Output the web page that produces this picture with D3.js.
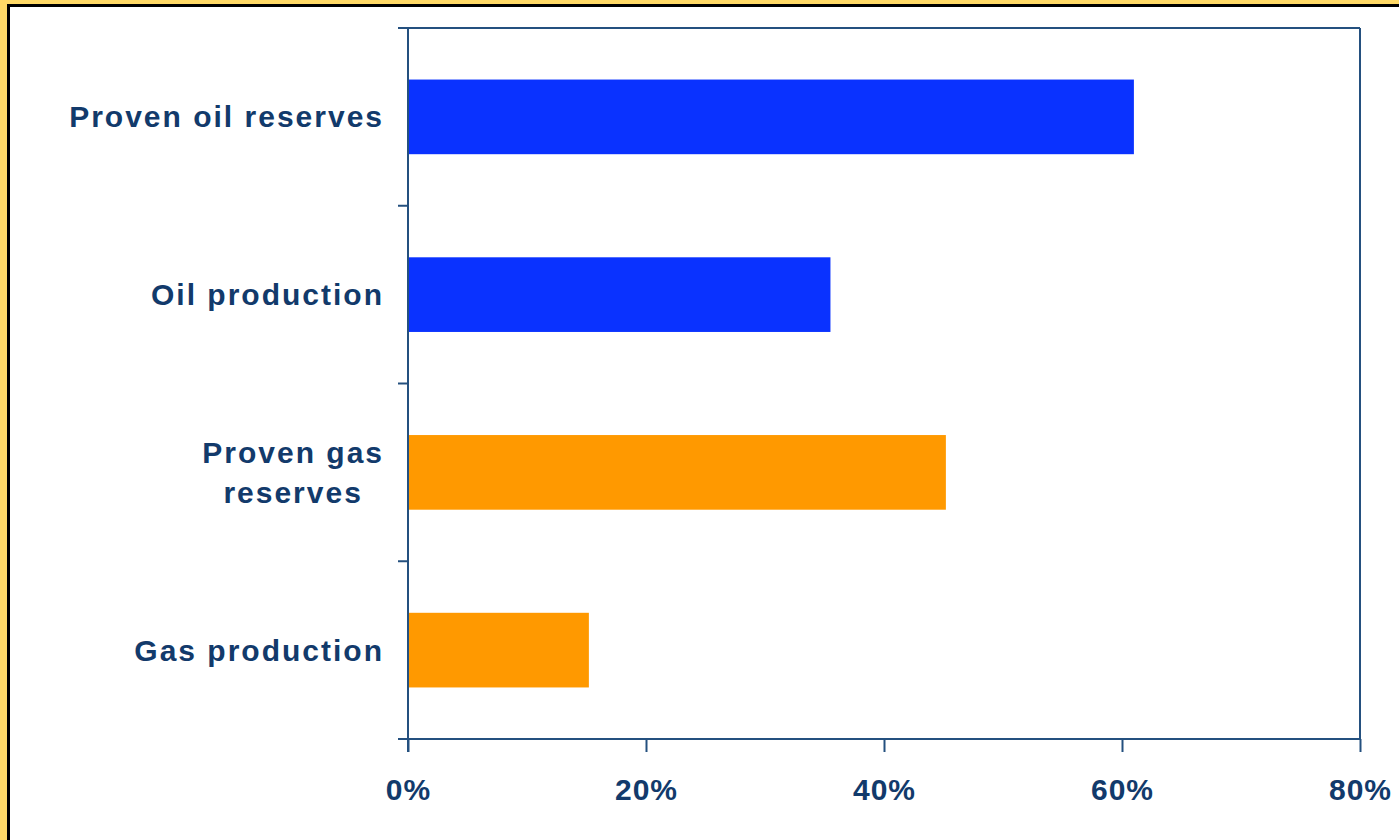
<!DOCTYPE html>
<html>
<head>
<meta charset="utf-8">
<script src="https://cdn.jsdelivr.net/npm/d3@7"></script>
<style>
  body { margin: 0; background: #ffd966; }
  svg { display: block; }
  text { font-family: "Liberation Sans", Arial, sans-serif; font-weight: bold; fill: #123a6b; }
</style>
</head>
<body>
<div id="chart"></div>
<script>
let w = 1399;
let h = 840;

// data
const categories = ["Proven oil reserves", "Oil production", "Proven gas\nreserves", "Gas production"];
const shares = [0.61, 0.355, 0.452, 0.152];
const barColors = ["#0a32ff", "#0a32ff", "#ff9900", "#ff9900"];
const xTicks = [0, 0.2, 0.4, 0.6, 0.8];

const axisColor = "#24507f";

let svg = d3.select("#chart")
    .append("svg")
    .attr("width", w)
    .attr("height", h);

// yellow frame + black edge + white panel
svg.append("rect")
    .attr("width", w).attr("height", h)
    .attr("fill", "#ffd966");
svg.append("rect")
    .attr("x", 8.5).attr("y", 5.5)
    .attr("width", w).attr("height", h)
    .attr("fill", "white")
    .attr("stroke", "black")
    .attr("stroke-width", 3);

let plotL = 408, plotR = 1360, plotT = 28, plotB = 739;

let xScale = d3.scaleLinear()
    .domain([0, 0.8])
    .range([plotL, plotR]);

// band for the category slots, and a padded one for the bars
let yBand = d3.scaleBand()
    .domain(categories)
    .range([plotT, plotB])
    .padding(0);

let yBar = d3.scaleBand()
    .domain(categories)
    .range([plotT, plotB])
    .paddingInner(0.58)
    .paddingOuter(0.29);

// bars
svg.selectAll("rect.bar")
    .data(categories)
    .enter()
    .append("rect")
    .attr("class", "bar")
    .attr("x", xScale(0))
    .attr("y", d => yBar(d))
    .attr("width", (d, i) => xScale(shares[i]) - xScale(0))
    .attr("height", yBar.bandwidth())
    .attr("fill", (d, i) => barColors[i]);

// frame: top and right edges
svg.append("line")
    .attr("x1", plotL - 10).attr("x2", plotR)
    .attr("y1", plotT).attr("y2", plotT)
    .style("stroke", axisColor).style("stroke-width", 2);
svg.append("line")
    .attr("x1", plotR).attr("x2", plotR)
    .attr("y1", plotT).attr("y2", plotB)
    .style("stroke", axisColor).style("stroke-width", 2);

// x axis
let xAxis = d3.axisBottom(xScale)
    .tickValues(xTicks)
    .tickSize(13)
    .tickFormat(d3.format(".0%"));

let gx = svg.append("g")
    .attr("transform", "translate(0," + plotB + ")")
    .call(xAxis);
gx.select(".domain").remove();
gx.selectAll(".tick line").style("stroke", axisColor).style("stroke-width", 2);
gx.selectAll(".tick text")
    .attr("y", 61)
    .attr("dy", 0)
    .style("font-size", "30px")
    .style("letter-spacing", "1px")
    .style("font-family", "'Liberation Sans', Arial, sans-serif")
    .style("fill", "#123a6b");
gx.append("line")
    .attr("x1", plotL - 10).attr("x2", plotR)
    .attr("y1", 0).attr("y2", 0)
    .style("stroke", axisColor).style("stroke-width", 2);

// y axis: line plus ticks on the slot boundaries
let boundaries = categories.map(d => yBand(d)).concat([yBand(categories[categories.length - 1]) + yBand.bandwidth()]);
svg.append("line")
    .attr("x1", plotL).attr("x2", plotL)
    .attr("y1", plotT).attr("y2", plotB + 13)
    .style("stroke", axisColor).style("stroke-width", 2);
svg.selectAll("line.ytick")
    .data(boundaries)
    .enter()
    .append("line")
    .attr("class", "ytick")
    .attr("x1", plotL - 10).attr("x2", plotL)
    .attr("y1", d => d).attr("y2", d => d)
    .style("stroke", axisColor).style("stroke-width", 2);

// category labels, multi-line ones centred as a block
let lineH = 40;
let labels = svg.selectAll("text.cat")
    .data(categories)
    .enter()
    .append("text")
    .attr("class", "cat")
    .style("font-size", "30px")
    .style("letter-spacing", "2px");

labels.each(function(d) {
    let parts = d.split("\n");
    let t = d3.select(this);
    let cy = yBand(d) + yBand.bandwidth() / 2;
    let y0 = cy - (parts.length - 1) * lineH / 2 + 10.5;
    parts.forEach((p, i) => {
        t.append("tspan").attr("y", y0 + i * lineH).text(p);
    });
    let widths = [];
    t.selectAll("tspan").each(function() { widths.push(this.getComputedTextLength()); });
    let maxW = d3.max(widths);
    t.attr("text-anchor", "middle");
    t.selectAll("tspan").attr("x", 384 - maxW / 2);
});
</script>
</body>
</html>
